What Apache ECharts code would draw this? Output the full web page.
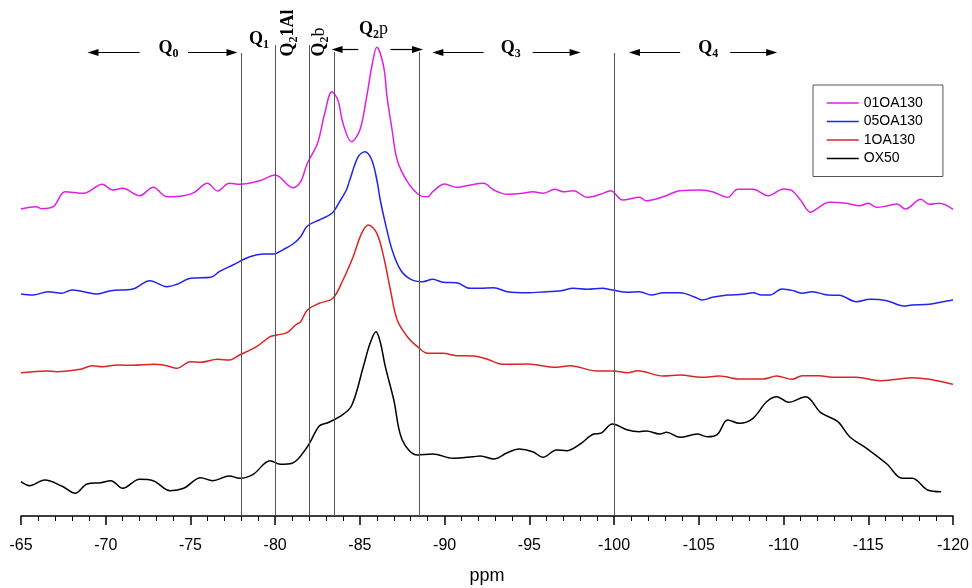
<!DOCTYPE html>
<html><head><meta charset="utf-8">
<script src="https://cdn.jsdelivr.net/npm/echarts@6/dist/echarts.min.js"></script>
<style>html,body{margin:0;padding:0;background:#fff}#c{width:972px;height:588px}</style>
</head><body><div id="c"></div>
<script>
// ---------- DATA ----------
const seriesNames = ['01OA130', '05OA130', '1OA130', 'OX50'];

const ppm01 = [-65.0,-65.9,-66.2,-66.9,-67.6,-68.7,-69.8,-70.4,-71.0,-72.0,-72.8,-73.6,-74.6,-75.2,-76.0,-76.6,-77.3,-77.9,-79.1,-80.0,-81.05,-81.5,-81.9,-82.5,-82.9,-83.35,-83.7,-84.0,-84.5,-85.0,-85.4,-85.7,-86.0,-86.4,-86.6,-86.9,-87.2,-87.8,-88.5,-89.0,-89.3,-90.0,-90.7,-91.3,-92.3,-92.9,-93.7,-94.6,-95.2,-95.8,-96.5,-97.0,-97.6,-98.4,-99.2,-99.8,-100.5,-101.5,-101.9,-102.9,-103.9,-105.1,-105.8,-106.7,-107.3,-108.2,-109.1,-110.0,-110.5,-111.0,-111.6,-112.0,-112.7,-113.7,-114.5,-115.0,-115.5,-116.1,-116.7,-117.2,-118.1,-118.6,-119.2,-120.0];
const int01 = [307,309.3,307.3,309.3,324.3,322.7,331.7,326,327.7,320.3,328.7,319.3,320.3,323.3,332.7,325,332.7,331.7,335.3,341,328.3,334.3,352.7,372.7,401,424.3,416,392.7,374.3,386,419.3,449.3,468.7,449.3,419.3,386,356,334.3,321,319.3,324.3,332,328.7,330.3,332.7,326,321.7,322.7,324.3,322.7,326.7,324.3,325.3,318.7,321.7,325.3,316,318.7,315.3,319.3,325.3,326,324.3,318.7,326.7,326.7,320.3,327,325.3,316,303.7,307.7,313.7,312.7,310.3,312.7,308.7,310,312,307,316.7,311.7,312.7,306.7];

const ppm05 = [-65.0,-65.7,-66.6,-67.4,-68.0,-68.7,-69.5,-70.3,-71.6,-72.6,-73.6,-74.2,-75.0,-76.2,-76.7,-77.5,-78.5,-79.3,-79.9,-80.5,-81.05,-81.5,-81.9,-82.6,-83.35,-83.8,-84.2,-84.4,-84.9,-85.3,-85.7,-86.0,-86.2,-86.5,-86.9,-87.4,-88.0,-88.7,-89.3,-89.9,-90.7,-91.5,-92.1,-92.9,-93.7,-94.9,-96.0,-96.8,-97.6,-98.4,-99.3,-99.9,-100.8,-101.5,-102.2,-102.9,-103.9,-104.7,-105.2,-105.8,-106.7,-107.6,-108.2,-108.7,-109.2,-109.9,-110.6,-111.1,-111.7,-112.6,-113.3,-114.3,-115.1,-116.1,-117.1,-117.6,-118.6,-119.4,-120.0];
const int05 = [222,221,224.3,222.7,226,224.3,222,225.3,227,235.3,229.3,231.7,237.7,238.7,244.3,251,259.3,262,262,266.7,272,279.3,290,296,302.7,314.3,326,336,359.3,364.3,356,336,316,292.7,266,246,236.7,234.3,236.7,233.7,233.3,227.7,227.7,228.3,224.3,223.3,224.3,225,227.7,226.7,227.7,226,223.7,224.3,221,223.3,223.3,219.3,216,218.7,221,221.7,223.3,221,221,227,225.3,222.7,224.3,221,220.7,214.3,216.7,215.3,210,211,211.7,214.3,216];

const ppm1 = [-65.0,-65.7,-66.5,-67.1,-68.5,-69.2,-69.8,-70.7,-71.6,-72.8,-73.6,-74.2,-75.0,-75.6,-76.6,-77.3,-77.9,-78.9,-79.7,-80.1,-80.7,-81.2,-81.5,-81.9,-82.6,-83.4,-84.0,-84.6,-85.1,-85.5,-86.0,-86.4,-86.8,-87.2,-87.8,-88.4,-89.0,-89.9,-90.7,-91.7,-92.5,-93.4,-94.9,-96.6,-97.4,-99.0,-99.9,-100.8,-101.4,-102.9,-103.9,-105.2,-106.2,-107.4,-108.8,-109.6,-110.5,-111.1,-112.1,-112.9,-114.3,-115.7,-116.7,-117.6,-118.6,-120.0];
const int1 = [143.3,144.3,145,144.3,146.7,150.3,149.3,151,150.7,151.7,150.3,147.7,154.3,153.7,156.7,156,161,169.3,179.3,181,183.3,191,194.3,206,212.7,217.7,236,259.3,282.7,291,282.7,259.3,226,196,179.3,169.3,162.7,162.7,160.3,160,157,151.7,152,148.7,150.3,145,145,143.3,145.3,140,141,138.7,140,137,137,140,136.7,140.3,140.3,138.7,138.7,135.3,136.7,138.3,136.7,131.7];

const ppmOX = [-65.0,-65.5,-66.4,-67.4,-68.2,-68.9,-69.7,-70.3,-71.0,-72.0,-72.8,-73.8,-74.6,-75.6,-76.3,-77.3,-77.9,-78.7,-79.7,-80.3,-81.0,-81.9,-82.6,-83.1,-83.8,-84.5,-85.2,-85.6,-85.95,-86.2,-86.5,-87.0,-87.5,-88.4,-89.3,-90.5,-91.7,-92.1,-92.9,-93.7,-94.4,-95.2,-95.8,-96.6,-97.2,-98.0,-98.8,-99.2,-99.9,-100.8,-101.5,-101.9,-102.7,-103.1,-103.9,-104.9,-105.5,-106.1,-106.7,-107.4,-108.2,-109.0,-109.6,-110.3,-111.3,-112.2,-113.2,-113.9,-114.9,-116.1,-117.0,-117.6,-118.5,-119.3];
const intOX = [34.3,30.3,36,30,22.7,32,33.3,35.3,27.7,36.7,35.3,25.3,27.7,38.3,35.3,40,37.7,41.7,55.3,51.7,52.7,69.3,90,93.3,99.3,110,149.3,172.7,184.3,174,149.3,116,76,61,62,57.7,59.3,60,57,63.3,67,64.3,58.7,66,65.3,72,82,82.7,92,86,84.3,85,82,83.7,78.7,82,79.3,81.7,96,92.7,97.7,114.3,119.3,113.7,119.3,103.3,94.3,79.3,67.7,52,37.7,37.7,26,24.3];

// region boundaries (ppm)
const boundaries = [-78, -80, -82, -83.5, -88.5, -100];

// ---------- LAYOUT / STYLE ----------
const boundaryTop = [463, 471, 471, 464, 464, 463];
const colors = ['#e01fe6', '#2222f2', '#dc2424', '#000000'];
const arrows = [
  {from: -72.0, to: -69.25, v: 463.5},
  {from: -74.85, to: -77.45, v: 463.5},
  {from: -84.9, to: -83.65, v: 466.5},
  {from: -86.8, to: -88.4, v: 466.5},
  {from: -92.3, to: -89.6, v: 463.5},
  {from: -95.2, to: -97.7, v: 463.5},
  {from: -103.9, to: -101.2, v: 463.5},
  {from: -106.85, to: -109.3, v: 463.5}
];
const labels = [
  {ppm: -73.7, v: 468, rot: false, parts: [['Q','q'],['0','s']]},
  {ppm: -79.05, v: 477, rot: false, parts: [['Q','q'],['1','s']]},
  {ppm: -85.8, v: 487, rot: false, parts: [['Q','q'],['2','s'],['p','n']]},
  {ppm: -93.9, v: 468, rot: false, parts: [['Q','q'],['3','s']]},
  {ppm: -105.55, v: 468, rot: false, parts: [['Q','q'],['4','s']]},
  {ppm: -80.75, v: 483, rot: true, parts: [['Q','q'],['2','s'],['1Al','q']]},
  {ppm: -82.6, v: 474, rot: true, parts: [['Q','q'],['2','s'],['b','n']]}
];
const fonts = {
  q: {font: 'bold 18px "Liberation Serif"', dy: 0},
  s: {font: 'bold 12px "Liberation Serif"', dy: 6},
  n: {font: '18px "Liberation Serif"', dy: 0}
};

const pair = (xs, ys) => xs.map((x, i) => [x, ys[i]]);
const dataSets = [pair(ppm01, int01), pair(ppm05, int05), pair(ppm1, int1), pair(ppmOX, intOX)];

const chart = echarts.init(document.getElementById('c'), null, {renderer: 'canvas'});

const series = seriesNames.map((name, i) => ({
  type: 'line', name: name, data: dataSets[i],
  smooth: 0.35, symbol: 'none', showSymbol: false,
  lineStyle: {width: 1.5, color: colors[i]}, itemStyle: {color: colors[i]},
  animation: false, z: 3
}));
series[3].markLine = {
  silent: true, symbol: ['none', 'none'], label: {show: false}, animation: false,
  lineStyle: {color: '#555', width: 1, type: 'solid'},
  emphasis: {disabled: true},
  data: boundaries.map((b, i) => [{coord: [b, 0]}, {coord: [b, boundaryTop[i]]}])
};
series[2].markLine = {
  silent: true, symbol: ['none', 'triangle'], symbolSize: [7, 11], label: {show: false}, animation: false,
  lineStyle: {color: '#000', width: 1.2, type: 'solid'},
  emphasis: {disabled: true},
  data: arrows.map(a => [{coord: [a.from, a.v]}, {coord: [a.to, a.v]}])
};

chart.setOption({
  backgroundColor: '#fff',
  animation: false,
  grid: {left: 21, right: 19, top: 20, bottom: 72, containLabel: false, outerBoundsMode: 'none'},
  legend: {
    data: seriesNames, orient: 'vertical', left: 813, top: 85,
    itemWidth: 32, itemHeight: 14, itemGap: 4.5,
    padding: [11, 20, 11, 13], borderColor: '#555', borderWidth: 1,
    itemStyle: {opacity: 0},
    lineStyle: {width: 1.5},
    textStyle: {fontFamily: 'Liberation Sans', fontSize: 14, color: '#000'},
    selectedMode: false
  },
  xAxis: {
    type: 'value', min: -120, max: -65, interval: 5, inverse: true,
    axisLine: {show: true, lineStyle: {color: '#000', width: 1.5}},
    axisTick: {show: true, length: 9, lineStyle: {color: '#000', width: 1.5}},
    minorTick: {show: true, splitNumber: 5, length: 5, lineStyle: {color: '#000', width: 1}},
    splitLine: {show: false},
    axisLabel: {color: '#000', fontFamily: 'Liberation Sans', fontSize: 16, margin: 22},
    name: 'ppm', nameLocation: 'middle', nameGap: 51,
    nameTextStyle: {color: '#000', fontFamily: 'Liberation Sans', fontSize: 18}
  },
  yAxis: {type: 'value', min: 0, max: 496, show: false},
  series: series
});

// annotation labels (Q0 ... Q4) positioned in data coordinates
const ctx = document.createElement('canvas').getContext('2d');
const graphics = labels.map(l => {
  let widths = l.parts.map(p => { ctx.font = fonts[p[1]].font; return ctx.measureText(p[0]).width; });
  const total = widths.reduce((a, b) => a + b, 0);
  let off = -total / 2;
  const children = l.parts.map((p, i) => {
    const c = {type: 'text', x: off, y: fonts[p[1]].dy,
      style: {text: p[0], font: fonts[p[1]].font, fill: '#000', textAlign: 'left', textVerticalAlign: 'middle'}};
    off += widths[i];
    return c;
  });
  const px = chart.convertToPixel({gridIndex: 0}, [l.ppm, l.v]);
  return {type: 'group', x: px[0], y: px[1], rotation: l.rot ? Math.PI / 2 : 0, children: children, silent: true};
});
chart.setOption({graphic: graphics});
</script>
</body></html>
